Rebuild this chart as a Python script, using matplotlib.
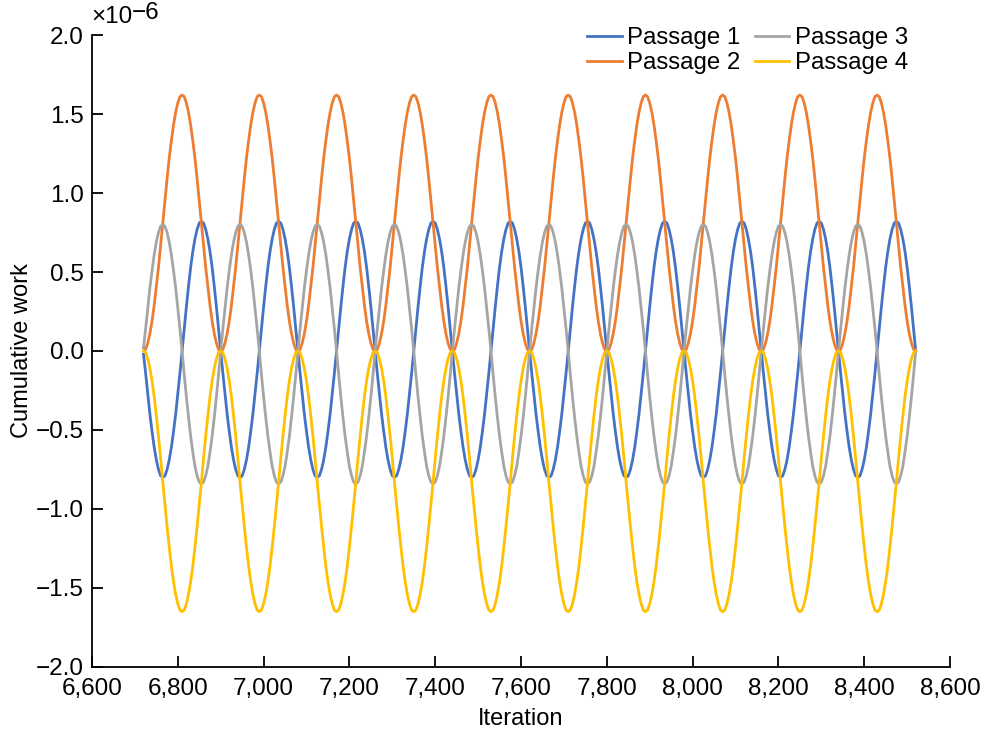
import numpy as np
import matplotlib
matplotlib.use("Agg")
import matplotlib.pyplot as plt
from matplotlib.ticker import FuncFormatter, MultipleLocator

plt.rcParams['font.family'] = ['Liberation Sans', 'DejaVu Sans']

# Iterations sampled every 5 steps from 6720 to 8520
iterations = np.arange(6720, 8521, 5)

# Values in units of 1e-6
passage1 = [
    -0.02, -0.14, -0.27, -0.40, -0.51, -0.61, -0.69, -0.75, -0.79, -0.80, -0.79, -0.75, -0.69, -0.61, -0.51, -0.40, -0.27, -0.14, 0.00, 0.14, 0.28, 0.41, 0.53, 0.63, 0.71, 0.77, 0.81, 0.82, 0.81, 0.77, 0.71, 0.63, 0.53, 0.41, 0.28, 0.14,
    0.00, -0.14, -0.27, -0.40, -0.51, -0.61, -0.69, -0.75, -0.79, -0.80, -0.79, -0.75, -0.69, -0.61, -0.51, -0.40, -0.27, -0.14, 0.00, 0.14, 0.28, 0.41, 0.53, 0.63, 0.71, 0.77, 0.81, 0.82, 0.81, 0.77, 0.71, 0.63, 0.53, 0.41, 0.28, 0.14,
    0.00, -0.14, -0.27, -0.40, -0.51, -0.61, -0.69, -0.75, -0.79, -0.80, -0.79, -0.75, -0.69, -0.61, -0.51, -0.40, -0.27, -0.14, 0.00, 0.14, 0.28, 0.41, 0.53, 0.63, 0.71, 0.77, 0.81, 0.82, 0.81, 0.77, 0.71, 0.63, 0.53, 0.41, 0.28, 0.14,
    0.00, -0.14, -0.27, -0.40, -0.51, -0.61, -0.69, -0.75, -0.79, -0.80, -0.79, -0.75, -0.69, -0.61, -0.51, -0.40, -0.27, -0.14, 0.00, 0.14, 0.28, 0.41, 0.53, 0.63, 0.71, 0.77, 0.81, 0.82, 0.81, 0.77, 0.71, 0.63, 0.53, 0.41, 0.28, 0.14,
    0.00, -0.14, -0.27, -0.40, -0.51, -0.61, -0.69, -0.75, -0.79, -0.80, -0.79, -0.75, -0.69, -0.61, -0.51, -0.40, -0.27, -0.14, 0.00, 0.14, 0.28, 0.41, 0.53, 0.63, 0.71, 0.77, 0.81, 0.82, 0.81, 0.77, 0.71, 0.63, 0.53, 0.41, 0.28, 0.14,
    0.00, -0.14, -0.27, -0.40, -0.51, -0.61, -0.69, -0.75, -0.79, -0.80, -0.79, -0.75, -0.69, -0.61, -0.51, -0.40, -0.27, -0.14, 0.00, 0.14, 0.28, 0.41, 0.53, 0.63, 0.71, 0.77, 0.81, 0.82, 0.81, 0.77, 0.71, 0.63, 0.53, 0.41, 0.28, 0.14,
    0.00, -0.14, -0.27, -0.40, -0.51, -0.61, -0.69, -0.75, -0.79, -0.80, -0.79, -0.75, -0.69, -0.61, -0.51, -0.40, -0.27, -0.14, 0.00, 0.14, 0.28, 0.41, 0.53, 0.63, 0.71, 0.77, 0.81, 0.82, 0.81, 0.77, 0.71, 0.63, 0.53, 0.41, 0.28, 0.14,
    0.00, -0.14, -0.27, -0.40, -0.51, -0.61, -0.69, -0.75, -0.79, -0.80, -0.79, -0.75, -0.69, -0.61, -0.51, -0.40, -0.27, -0.14, 0.00, 0.14, 0.28, 0.41, 0.53, 0.63, 0.71, 0.77, 0.81, 0.82, 0.81, 0.77, 0.71, 0.63, 0.53, 0.41, 0.28, 0.14,
    0.00, -0.14, -0.27, -0.40, -0.51, -0.61, -0.69, -0.75, -0.79, -0.80, -0.79, -0.75, -0.69, -0.61, -0.51, -0.40, -0.27, -0.14, 0.00, 0.14, 0.28, 0.41, 0.53, 0.63, 0.71, 0.77, 0.81, 0.82, 0.81, 0.77, 0.71, 0.63, 0.53, 0.41, 0.28, 0.14,
    0.00, -0.14, -0.27, -0.40, -0.51, -0.61, -0.69, -0.75, -0.79, -0.80, -0.79, -0.75, -0.69, -0.61, -0.51, -0.40, -0.27, -0.14, 0.00, 0.14, 0.28, 0.41, 0.53, 0.63, 0.71, 0.77, 0.81, 0.82, 0.81, 0.77, 0.71, 0.63, 0.53, 0.41, 0.28, 0.14,
    0.00,
]
passage2 = [
    0.02, 0.01, 0.05, 0.11, 0.19, 0.29, 0.41, 0.53, 0.67, 0.81, 0.95, 1.09, 1.22, 1.33, 1.43, 1.51, 1.57, 1.61, 1.62, 1.61, 1.57, 1.51, 1.43, 1.33, 1.22, 1.09, 0.95, 0.81, 0.67, 0.53, 0.41, 0.29, 0.19, 0.11, 0.05, 0.01,
    0.00, 0.01, 0.05, 0.11, 0.19, 0.29, 0.41, 0.53, 0.67, 0.81, 0.95, 1.09, 1.22, 1.33, 1.43, 1.51, 1.57, 1.61, 1.62, 1.61, 1.57, 1.51, 1.43, 1.33, 1.22, 1.09, 0.95, 0.81, 0.67, 0.53, 0.41, 0.29, 0.19, 0.11, 0.05, 0.01,
    0.00, 0.01, 0.05, 0.11, 0.19, 0.29, 0.41, 0.53, 0.67, 0.81, 0.95, 1.09, 1.22, 1.33, 1.43, 1.51, 1.57, 1.61, 1.62, 1.61, 1.57, 1.51, 1.43, 1.33, 1.22, 1.09, 0.95, 0.81, 0.67, 0.53, 0.41, 0.29, 0.19, 0.11, 0.05, 0.01,
    0.00, 0.01, 0.05, 0.11, 0.19, 0.29, 0.41, 0.53, 0.67, 0.81, 0.95, 1.09, 1.22, 1.33, 1.43, 1.51, 1.57, 1.61, 1.62, 1.61, 1.57, 1.51, 1.43, 1.33, 1.22, 1.09, 0.95, 0.81, 0.67, 0.53, 0.41, 0.29, 0.19, 0.11, 0.05, 0.01,
    0.00, 0.01, 0.05, 0.11, 0.19, 0.29, 0.41, 0.53, 0.67, 0.81, 0.95, 1.09, 1.22, 1.33, 1.43, 1.51, 1.57, 1.61, 1.62, 1.61, 1.57, 1.51, 1.43, 1.33, 1.22, 1.09, 0.95, 0.81, 0.67, 0.53, 0.41, 0.29, 0.19, 0.11, 0.05, 0.01,
    0.00, 0.01, 0.05, 0.11, 0.19, 0.29, 0.41, 0.53, 0.67, 0.81, 0.95, 1.09, 1.22, 1.33, 1.43, 1.51, 1.57, 1.61, 1.62, 1.61, 1.57, 1.51, 1.43, 1.33, 1.22, 1.09, 0.95, 0.81, 0.67, 0.53, 0.41, 0.29, 0.19, 0.11, 0.05, 0.01,
    0.00, 0.01, 0.05, 0.11, 0.19, 0.29, 0.41, 0.53, 0.67, 0.81, 0.95, 1.09, 1.22, 1.33, 1.43, 1.51, 1.57, 1.61, 1.62, 1.61, 1.57, 1.51, 1.43, 1.33, 1.22, 1.09, 0.95, 0.81, 0.67, 0.53, 0.41, 0.29, 0.19, 0.11, 0.05, 0.01,
    0.00, 0.01, 0.05, 0.11, 0.19, 0.29, 0.41, 0.53, 0.67, 0.81, 0.95, 1.09, 1.22, 1.33, 1.43, 1.51, 1.57, 1.61, 1.62, 1.61, 1.57, 1.51, 1.43, 1.33, 1.22, 1.09, 0.95, 0.81, 0.67, 0.53, 0.41, 0.29, 0.19, 0.11, 0.05, 0.01,
    0.00, 0.01, 0.05, 0.11, 0.19, 0.29, 0.41, 0.53, 0.67, 0.81, 0.95, 1.09, 1.22, 1.33, 1.43, 1.51, 1.57, 1.61, 1.62, 1.61, 1.57, 1.51, 1.43, 1.33, 1.22, 1.09, 0.95, 0.81, 0.67, 0.53, 0.41, 0.29, 0.19, 0.11, 0.05, 0.01,
    0.00, 0.01, 0.05, 0.11, 0.19, 0.29, 0.41, 0.53, 0.67, 0.81, 0.95, 1.09, 1.22, 1.33, 1.43, 1.51, 1.57, 1.61, 1.62, 1.61, 1.57, 1.51, 1.43, 1.33, 1.22, 1.09, 0.95, 0.81, 0.67, 0.53, 0.41, 0.29, 0.19, 0.11, 0.05, 0.01,
    0.00,
]
passage3 = [
    0.02, 0.14, 0.27, 0.40, 0.51, 0.61, 0.69, 0.75, 0.79, 0.80, 0.79, 0.75, 0.69, 0.61, 0.51, 0.40, 0.27, 0.14, 0.00, -0.15, -0.29, -0.42, -0.54, -0.64, -0.73, -0.79, -0.83, -0.84, -0.83, -0.79, -0.73, -0.64, -0.54, -0.42, -0.29, -0.15,
    0.00, 0.14, 0.27, 0.40, 0.51, 0.61, 0.69, 0.75, 0.79, 0.80, 0.79, 0.75, 0.69, 0.61, 0.51, 0.40, 0.27, 0.14, 0.00, -0.15, -0.29, -0.42, -0.54, -0.64, -0.73, -0.79, -0.83, -0.84, -0.83, -0.79, -0.73, -0.64, -0.54, -0.42, -0.29, -0.15,
    0.00, 0.14, 0.27, 0.40, 0.51, 0.61, 0.69, 0.75, 0.79, 0.80, 0.79, 0.75, 0.69, 0.61, 0.51, 0.40, 0.27, 0.14, 0.00, -0.15, -0.29, -0.42, -0.54, -0.64, -0.73, -0.79, -0.83, -0.84, -0.83, -0.79, -0.73, -0.64, -0.54, -0.42, -0.29, -0.15,
    0.00, 0.14, 0.27, 0.40, 0.51, 0.61, 0.69, 0.75, 0.79, 0.80, 0.79, 0.75, 0.69, 0.61, 0.51, 0.40, 0.27, 0.14, 0.00, -0.15, -0.29, -0.42, -0.54, -0.64, -0.73, -0.79, -0.83, -0.84, -0.83, -0.79, -0.73, -0.64, -0.54, -0.42, -0.29, -0.15,
    0.00, 0.14, 0.27, 0.40, 0.51, 0.61, 0.69, 0.75, 0.79, 0.80, 0.79, 0.75, 0.69, 0.61, 0.51, 0.40, 0.27, 0.14, 0.00, -0.15, -0.29, -0.42, -0.54, -0.64, -0.73, -0.79, -0.83, -0.84, -0.83, -0.79, -0.73, -0.64, -0.54, -0.42, -0.29, -0.15,
    0.00, 0.14, 0.27, 0.40, 0.51, 0.61, 0.69, 0.75, 0.79, 0.80, 0.79, 0.75, 0.69, 0.61, 0.51, 0.40, 0.27, 0.14, 0.00, -0.15, -0.29, -0.42, -0.54, -0.64, -0.73, -0.79, -0.83, -0.84, -0.83, -0.79, -0.73, -0.64, -0.54, -0.42, -0.29, -0.15,
    0.00, 0.14, 0.27, 0.40, 0.51, 0.61, 0.69, 0.75, 0.79, 0.80, 0.79, 0.75, 0.69, 0.61, 0.51, 0.40, 0.27, 0.14, 0.00, -0.15, -0.29, -0.42, -0.54, -0.64, -0.73, -0.79, -0.83, -0.84, -0.83, -0.79, -0.73, -0.64, -0.54, -0.42, -0.29, -0.15,
    0.00, 0.14, 0.27, 0.40, 0.51, 0.61, 0.69, 0.75, 0.79, 0.80, 0.79, 0.75, 0.69, 0.61, 0.51, 0.40, 0.27, 0.14, 0.00, -0.15, -0.29, -0.42, -0.54, -0.64, -0.73, -0.79, -0.83, -0.84, -0.83, -0.79, -0.73, -0.64, -0.54, -0.42, -0.29, -0.15,
    0.00, 0.14, 0.27, 0.40, 0.51, 0.61, 0.69, 0.75, 0.79, 0.80, 0.79, 0.75, 0.69, 0.61, 0.51, 0.40, 0.27, 0.14, 0.00, -0.15, -0.29, -0.42, -0.54, -0.64, -0.73, -0.79, -0.83, -0.84, -0.83, -0.79, -0.73, -0.64, -0.54, -0.42, -0.29, -0.15,
    0.00, 0.14, 0.27, 0.40, 0.51, 0.61, 0.69, 0.75, 0.79, 0.80, 0.79, 0.75, 0.69, 0.61, 0.51, 0.40, 0.27, 0.14, 0.00, -0.15, -0.29, -0.42, -0.54, -0.64, -0.73, -0.79, -0.83, -0.84, -0.83, -0.79, -0.73, -0.64, -0.54, -0.42, -0.29, -0.15,
    0.00,
]
passage4 = [
    0.00, -0.01, -0.05, -0.11, -0.19, -0.29, -0.41, -0.54, -0.68, -0.83, -0.97, -1.11, -1.24, -1.36, -1.46, -1.54, -1.60, -1.64, -1.65, -1.64, -1.60, -1.54, -1.46, -1.36, -1.24, -1.11, -0.97, -0.83, -0.68, -0.54, -0.41, -0.29, -0.19, -0.11, -0.05, -0.01,
    0.00, -0.01, -0.05, -0.11, -0.19, -0.29, -0.41, -0.54, -0.68, -0.83, -0.97, -1.11, -1.24, -1.36, -1.46, -1.54, -1.60, -1.64, -1.65, -1.64, -1.60, -1.54, -1.46, -1.36, -1.24, -1.11, -0.97, -0.83, -0.68, -0.54, -0.41, -0.29, -0.19, -0.11, -0.05, -0.01,
    0.00, -0.01, -0.05, -0.11, -0.19, -0.29, -0.41, -0.54, -0.68, -0.83, -0.97, -1.11, -1.24, -1.36, -1.46, -1.54, -1.60, -1.64, -1.65, -1.64, -1.60, -1.54, -1.46, -1.36, -1.24, -1.11, -0.97, -0.83, -0.68, -0.54, -0.41, -0.29, -0.19, -0.11, -0.05, -0.01,
    0.00, -0.01, -0.05, -0.11, -0.19, -0.29, -0.41, -0.54, -0.68, -0.83, -0.97, -1.11, -1.24, -1.36, -1.46, -1.54, -1.60, -1.64, -1.65, -1.64, -1.60, -1.54, -1.46, -1.36, -1.24, -1.11, -0.97, -0.83, -0.68, -0.54, -0.41, -0.29, -0.19, -0.11, -0.05, -0.01,
    0.00, -0.01, -0.05, -0.11, -0.19, -0.29, -0.41, -0.54, -0.68, -0.83, -0.97, -1.11, -1.24, -1.36, -1.46, -1.54, -1.60, -1.64, -1.65, -1.64, -1.60, -1.54, -1.46, -1.36, -1.24, -1.11, -0.97, -0.83, -0.68, -0.54, -0.41, -0.29, -0.19, -0.11, -0.05, -0.01,
    0.00, -0.01, -0.05, -0.11, -0.19, -0.29, -0.41, -0.54, -0.68, -0.83, -0.97, -1.11, -1.24, -1.36, -1.46, -1.54, -1.60, -1.64, -1.65, -1.64, -1.60, -1.54, -1.46, -1.36, -1.24, -1.11, -0.97, -0.83, -0.68, -0.54, -0.41, -0.29, -0.19, -0.11, -0.05, -0.01,
    0.00, -0.01, -0.05, -0.11, -0.19, -0.29, -0.41, -0.54, -0.68, -0.83, -0.97, -1.11, -1.24, -1.36, -1.46, -1.54, -1.60, -1.64, -1.65, -1.64, -1.60, -1.54, -1.46, -1.36, -1.24, -1.11, -0.97, -0.83, -0.68, -0.54, -0.41, -0.29, -0.19, -0.11, -0.05, -0.01,
    0.00, -0.01, -0.05, -0.11, -0.19, -0.29, -0.41, -0.54, -0.68, -0.83, -0.97, -1.11, -1.24, -1.36, -1.46, -1.54, -1.60, -1.64, -1.65, -1.64, -1.60, -1.54, -1.46, -1.36, -1.24, -1.11, -0.97, -0.83, -0.68, -0.54, -0.41, -0.29, -0.19, -0.11, -0.05, -0.01,
    0.00, -0.01, -0.05, -0.11, -0.19, -0.29, -0.41, -0.54, -0.68, -0.83, -0.97, -1.11, -1.24, -1.36, -1.46, -1.54, -1.60, -1.64, -1.65, -1.64, -1.60, -1.54, -1.46, -1.36, -1.24, -1.11, -0.97, -0.83, -0.68, -0.54, -0.41, -0.29, -0.19, -0.11, -0.05, -0.01,
    0.00, -0.01, -0.05, -0.11, -0.19, -0.29, -0.41, -0.54, -0.68, -0.83, -0.97, -1.11, -1.24, -1.36, -1.46, -1.54, -1.60, -1.64, -1.65, -1.64, -1.60, -1.54, -1.46, -1.36, -1.24, -1.11, -0.97, -0.83, -0.68, -0.54, -0.41, -0.29, -0.19, -0.11, -0.05, -0.01,
    0.00,
]

labels = ["Passage 1", "Passage 2", "Passage 3", "Passage 4"]
colors = ["#4472C4", "#ED7D31", "#A5A5A5", "#FFC000"]
SCALE = 1e-6
FS_TICK = 17.5
FS = 17
FS_LEG = 17.3

fig = plt.figure(figsize=(9.85, 7.34), dpi=100)
ax = fig.add_axes([0.0934, 0.0913, 0.8711, 0.861])

for vals, lab, col in zip([passage1, passage2, passage3, passage4], labels, colors):
    ax.plot(iterations, np.array(vals) * SCALE, color=col, lw=2.0, label=lab)

ax.set_xlim(6600, 8600)
ax.set_ylim(-2.0e-6, 2.0e-6)
ax.xaxis.set_major_locator(MultipleLocator(200))
ax.yaxis.set_major_locator(MultipleLocator(0.5e-6))
ax.xaxis.set_major_formatter(FuncFormatter(lambda v, p: f"{v:,.0f}"))
ax.yaxis.set_major_formatter(FuncFormatter(lambda v, p: f"{v / SCALE:.1f}".replace("-", "\u2212")))

for side in ["top", "right"]:
    ax.spines[side].set_visible(False)
for side in ["left", "bottom"]:
    ax.spines[side].set_linewidth(1.3)

ax.tick_params(axis="both", direction="in", length=8, width=1.3, labelsize=FS_TICK)
ax.tick_params(axis="x", pad=8)
ax.tick_params(axis="y", pad=6)

ax.set_xlabel("Iteration", fontsize=FS, labelpad=6)
ax.set_ylabel("Cumulative work", fontsize=FS, labelpad=2)

fig.text(0.093, 0.968, "\u00d710", fontsize=FS_TICK, ha="left", va="baseline")
fig.text(0.134, 0.974, "\u22126", fontsize=FS_TICK, ha="left", va="baseline")

ax.legend(ncol=2, loc="upper right", bbox_to_anchor=(0.934, 0.979), bbox_transform=fig.transFigure,
          frameon=False, fontsize=FS_LEG, handlelength=1.45, handletextpad=0.22, columnspacing=0.6,
          labelspacing=0.11, borderpad=0.0)

fig.savefig("out.png", dpi=100)
